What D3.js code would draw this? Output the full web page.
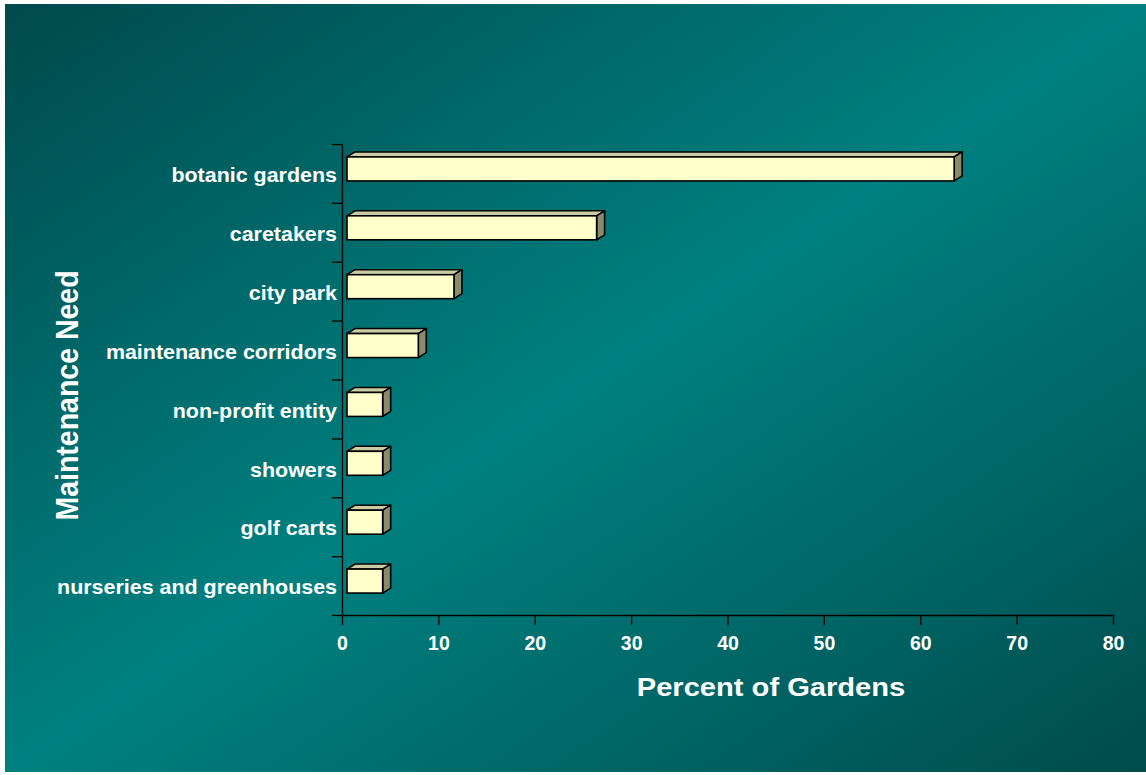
<!DOCTYPE html>
<html>
<head>
<meta charset="utf-8">
<script src="https://cdn.jsdelivr.net/npm/d3@7"></script>
<style>
  html, body { margin: 0; padding: 0; background: #ffffff; }
  svg { display: block; }
  text { font-family: "Liberation Sans", Arial, Helvetica, sans-serif; font-weight: bold; fill: #ffffff; }
</style>
</head>
<body>
<svg id="chart" width="1146" height="775"></svg>
<script>
// Share of gardens reporting each maintenance need
const categories = [
  "botanic gardens",
  "caretakers",
  "city park",
  "maintenance corridors",
  "non-profit entity",
  "showers",
  "golf carts",
  "nurseries and greenhouses"
];
const percents = [63.0, 25.9, 11.1, 7.4, 3.7, 3.7, 3.7, 3.7];
const xTicks = [0, 10, 20, 30, 40, 50, 60, 70, 80];
const xTitle = "Percent of Gardens";
const yTitle = "Maintenance Need";

const svg = d3.select("#chart");
const W = 1146, H = 775;

// Slide background: dark teal corners, brighter along the anti-diagonal
const defs = svg.append("defs");
const grad = defs.append("linearGradient")
  .attr("id", "bg")
  .attr("x1", 0).attr("y1", 0).attr("x2", 1).attr("y2", 1);
grad.append("stop").attr("offset", 0).attr("stop-color", "#004a4c");
grad.append("stop").attr("offset", 0.5).attr("stop-color", "#008080");
grad.append("stop").attr("offset", 1).attr("stop-color", "#004c4c");

svg.append("rect")
  .attr("x", 5).attr("y", 4)
  .attr("width", W - 5).attr("height", 772 - 4)
  .attr("fill", "url(#bg)");

// Plot frame
const plotLeft = 342, plotRight = 1113, plotTop = 144, plotBottom = 615;

const x = d3.scaleLinear().domain([0, 80]).range([plotLeft, plotRight]);
const y = d3.scaleBand().domain(categories).range([plotTop, plotBottom]).padding(0);
const yEdges = d3.scaleLinear().domain([0, categories.length]).range([plotTop, plotBottom]);

// Text is drawn slightly wide, as on the original slide
const stretch = 1.1;

// 3D bars: front face, top face and right side face
const depthX = 8, depthY = -5, faceH = 24, frontShift = 5;
const bars = svg.append("g").attr("class", "bars");

categories.forEach((c, i) => {
  const v = percents[i];
  const x0 = x(0) + frontShift;
  const x1 = x(v) + frontShift;
  const yc = y(c) + y.bandwidth() / 2;
  const y0 = yc - 16.5;
  const y1 = y0 + faceH;
  const g = bars.append("g");
  // top face
  g.append("path")
    .attr("d", `M${x0},${y0}L${x0 + depthX},${y0 + depthY}L${x1 + depthX},${y0 + depthY}L${x1},${y0}Z`)
    .attr("fill", "#cbcba6").attr("stroke", "#000").attr("stroke-width", 1.6)
    .attr("stroke-linejoin", "round");
  // side face
  g.append("path")
    .attr("d", `M${x1},${y0}L${x1 + depthX},${y0 + depthY}L${x1 + depthX},${y1 + depthY}L${x1},${y1}Z`)
    .attr("fill", "#8a8a6c").attr("stroke", "#000").attr("stroke-width", 1.6)
    .attr("stroke-linejoin", "round");
  // front face
  g.append("rect")
    .attr("x", x0).attr("y", y0)
    .attr("width", x1 - x0).attr("height", faceH)
    .attr("fill", "#ffffcc").attr("stroke", "#000").attr("stroke-width", 1.6);
});

// X axis
const xAxis = svg.append("g")
  .attr("transform", `translate(0,${plotBottom})`)
  .call(d3.axisBottom(x).tickValues(xTicks).tickSize(10).tickSizeOuter(0).tickFormat(d3.format("d")));
xAxis.select(".domain").attr("stroke", "#000").attr("stroke-width", 1.3);
xAxis.selectAll(".tick line").attr("stroke", "#000").attr("stroke-width", 1.3);
xAxis.selectAll(".tick text")
  .attr("y", 35).attr("dy", 0)
  .attr("fill", "#fff")
  .style("font-size", "19.5px")
  .style("font-family", "'Liberation Sans', Arial, sans-serif")
  .style("font-weight", "bold");

// Y axis: ticks at category boundaries
const yAxis = svg.append("g")
  .attr("transform", `translate(${plotLeft},0)`)
  .call(d3.axisLeft(yEdges).tickValues(d3.range(categories.length + 1)).tickSize(10).tickSizeOuter(0).tickFormat(""));
yAxis.select(".domain").attr("stroke", "#000").attr("stroke-width", 1.3);
yAxis.selectAll(".tick line").attr("stroke", "#000").attr("stroke-width", 1.3);

// Category labels
svg.append("g").selectAll("text")
  .data(categories)
  .join("text")
  .attr("text-anchor", "end")
  .attr("transform", d => `translate(337,${y(d) + y.bandwidth() / 2 + 8.8}) scale(${stretch},1)`)
  .style("font-size", "19.5px")
  .text(d => d);

// Axis titles
svg.append("text")
  .attr("text-anchor", "middle")
  .attr("transform", `translate(771,696) scale(1.165,1)`)
  .style("font-size", "25px")
  .text(xTitle);

svg.append("text")
  .attr("text-anchor", "middle")
  .attr("transform", `translate(78,395.5) rotate(-90) scale(1,1.1)`)
  .style("font-size", "28.5px")
  .text(yTitle);
</script>
</body>
</html>
